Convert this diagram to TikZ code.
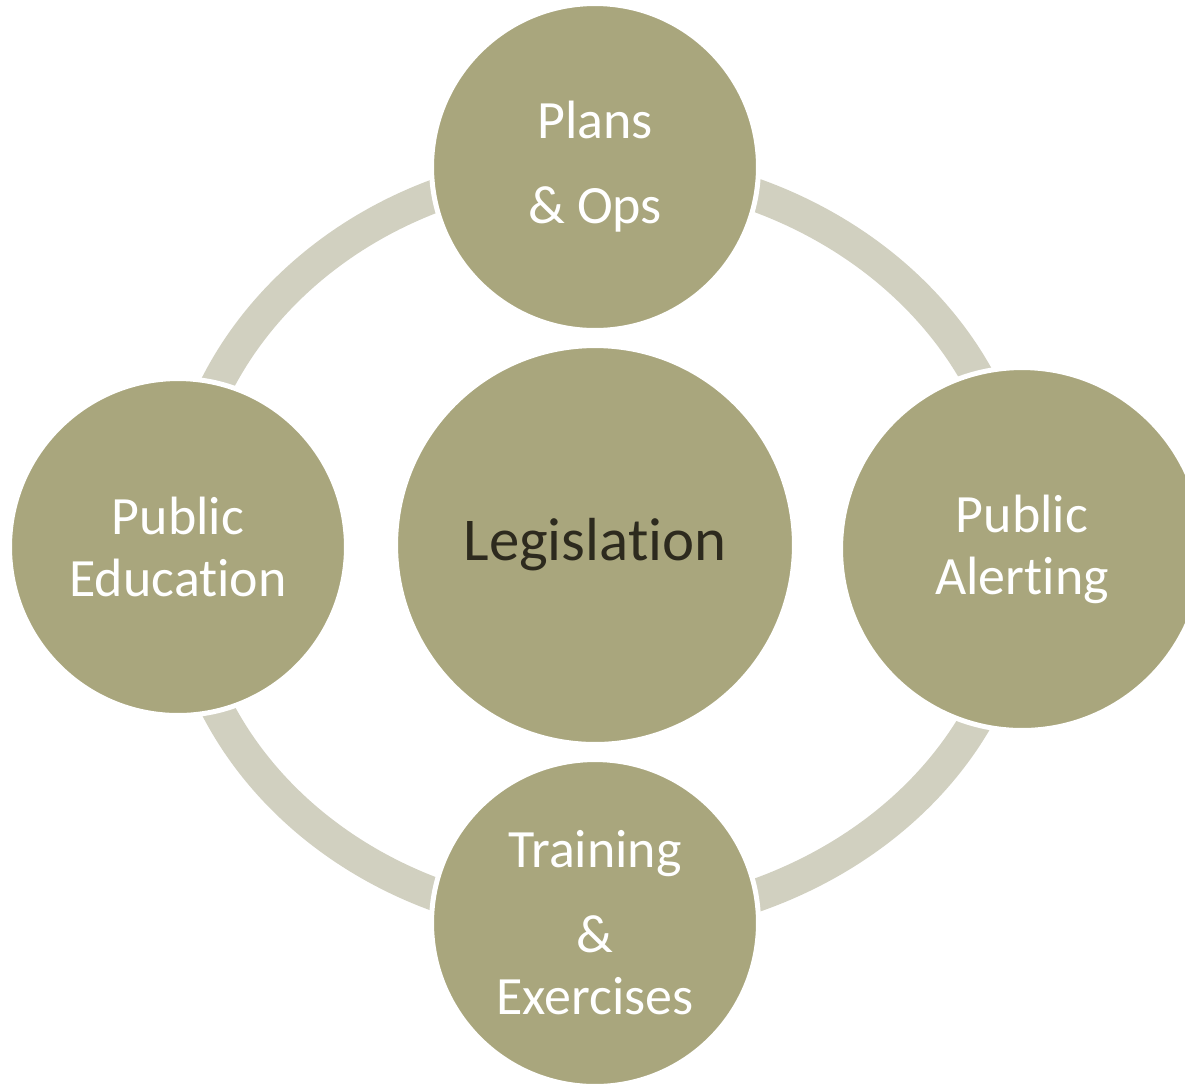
\documentclass[tikz,border=0pt]{standalone}
\usepackage{fontspec}
\setmainfont{Carlito}[Ligatures=NoCommon]
\usetikzlibrary{backgrounds}
\definecolor{olive}{HTML}{A9A67D}
\definecolor{pale}{HTML}{D1D0C0}
\definecolor{ink}{HTML}{2D2A1E}
\tikzset{
  topic/.style={
    circle,
    fill=olive,
    draw=white,
    line width=0.1cm,
    inner sep=0pt,
    align=center,
    text=white,
    font=\fontsize{30.7}{35.3}\selectfont
  },
  hub/.style={
    topic,
    text=ink,
    font=\fontsize{34.6}{40}\selectfont
  },
  ring/.style={
    draw=pale,
    line width=0.66cm
  }
}
\begin{document}
\begin{tikzpicture}[x=0.02cm,y=-0.02cm]
  \useasboundingbox (0,0) rectangle (1185,1083);

  \node[hub, minimum size=7.98cm] (legis) at (595,545) {Legislation};
  \node[topic, minimum size=6.54cm] (plans) at (595,167) {Plans\\[13pt]\& Ops};
  \node[topic, minimum size=7.26cm] (alert) at (1022,549) {Public\\Alerting};
  \node[topic, minimum size=6.54cm] (train) at (595,923) {Training\\[13pt]\&\\Exercises};
  \node[topic, minimum size=6.74cm] (educ) at (178,547) {Public\\Education};

  \begin{scope}[on background layer]
    \draw[ring] (plans.center) to[out=0,in=90] (alert.center)
      to[out=-90,in=0] (train.center)
      to[out=180,in=-90] (educ.center)
      to[out=90,in=180] (plans.center);
  \end{scope}
\end{tikzpicture}
\end{document}
